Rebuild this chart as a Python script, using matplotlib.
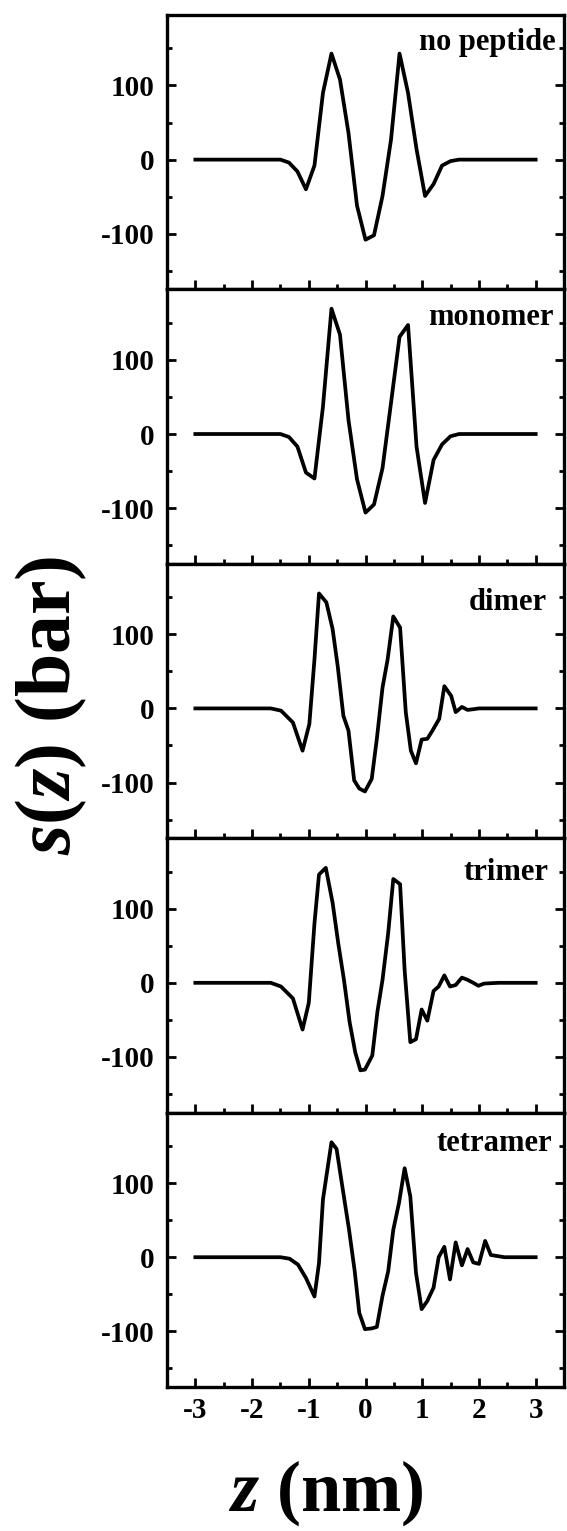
import numpy as np
import matplotlib
matplotlib.use("Agg")
import matplotlib.pyplot as plt
from matplotlib.ticker import MultipleLocator

plt.rcParams['font.family'] = 'Liberation Serif'
plt.rcParams['font.weight'] = 'bold'
plt.rcParams['axes.unicode_minus'] = False
plt.rcParams['mathtext.fontset'] = 'custom'
plt.rcParams['mathtext.rm'] = 'Liberation Serif:bold'
plt.rcParams['mathtext.it'] = 'Liberation Serif:italic:bold'
plt.rcParams['mathtext.bf'] = 'Liberation Serif:bold'

# ---- data: z (nm), s(z) (bar) ----
z_none = [-3.0, -1.5, -1.35, -1.2, -1.05, -0.9, -0.75, -0.6, -0.45, -0.3, -0.15, 0.0,
          0.15, 0.3, 0.45, 0.6, 0.75, 0.9, 1.05, 1.2, 1.35, 1.5, 1.65, 3.0]
s_none = [0, 0, -4, -16, -40, -8, 90, 143, 108, 36, -62, -108,
          -102, -49, 27, 143, 90, 14, -49, -33, -8, -2, 0, 0]

z_mono = [-3.0, -1.5, -1.35, -1.2, -1.05, -0.9, -0.75, -0.6, -0.45, -0.3, -0.15, 0.0,
          0.15, 0.3, 0.45, 0.6, 0.75, 0.9, 1.05, 1.2, 1.35, 1.5, 1.65, 3.0]
s_mono = [0, 0, -4, -17, -52, -60, 37, 169, 134, 19, -61, -106,
          -95, -46, 42, 131, 147, -17, -93, -35, -14, -3, 0, 0]

z_dimer = [-3.0, -1.67, -1.49, -1.28, -1.11, -0.99, -0.9, -0.82, -0.69, -0.58, -0.49,
           -0.39, -0.3, -0.2, -0.11, -0.01, 0.11, 0.2, 0.3, 0.39, 0.49, 0.61, 0.71,
           0.8, 0.89, 0.99, 1.09, 1.18, 1.3, 1.39, 1.51, 1.59, 1.7, 1.8, 1.91, 2.0, 3.0]
s_dimer = [0, 0, -3, -19, -57, -21, 66, 155, 143, 107, 57,
           -10, -30, -97, -108, -112, -95, -41, 28, 66, 124, 109, -5,
           -57, -74, -42, -41, -30, -14, 30, 17, -5, 2, -2, -1, 0, 0]

z_trimer = [-3.0, -1.67, -1.49, -1.28, -1.11, -1.0, -0.9, -0.82, -0.7, -0.58, -0.48,
            -0.38, -0.28, -0.18, -0.09, -0.01, 0.12, 0.21, 0.3, 0.4, 0.49, 0.61, 0.69,
            0.79, 0.89, 0.99, 1.09, 1.2, 1.29, 1.39, 1.49, 1.59, 1.7, 1.8, 1.9, 1.99,
            2.09, 2.35, 3.0]
s_trimer = [0, 0, -5, -21, -63, -27, 80, 146, 155, 108, 53,
            4, -53, -94, -118, -117, -98, -39, 4, 67, 140, 133, 17,
            -80, -76, -36, -51, -11, -5, 10, -5, -3, 7, 4, 0, -4,
            -1, 0, 0]

z_tetra = [-3.0, -1.5, -1.34, -1.19, -1.05, -0.9, -0.82, -0.75, -0.6, -0.51, -0.41,
           -0.29, -0.19, -0.11, -0.01, 0.11, 0.2, 0.3, 0.4, 0.49, 0.59, 0.69, 0.79,
           0.89, 0.99, 1.09, 1.2, 1.29, 1.39, 1.49, 1.59, 1.7, 1.8, 1.9, 2.0, 2.11,
           2.21, 2.45, 3.0]
s_tetra = [0, 0, -2, -10, -28, -53, -8, 78, 155, 146, 96,
           37, -19, -75, -97, -96, -94, -52, -19, 37, 73, 120, 82,
           -21, -70, -59, -41, 0, 14, -30, 20, -11, 11, -7, -9, 22,
           3, 0, 0]

zs = [z_none, z_mono, z_dimer, z_trimer, z_tetra]
ss = [s_none, s_mono, s_dimer, s_trimer, s_tetra]
names = ['no peptide', 'monomer', 'dimer', 'trimer', 'tetramer']
label_x = [3.36, 3.32, 3.20, 3.23, 3.29]
label_y = [148, 147, 133, 139, 143]

fig = plt.figure(figsize=(5.67, 15.31), dpi=100)
left, right = 167 / 567, 564 / 567
top, bottom = 1 - 15 / 1531, 1 - 1387 / 1531
h = (top - bottom) / 5

axes = []
for i in range(5):
    ax = fig.add_axes([left, top - (i + 1) * h, right - left, h])
    axes.append(ax)
    ax.plot(zs[i], ss[i], color='black', lw=2.7)
    ax.set_xlim(-3.5, 3.5)
    ax.set_ylim(-175, 195)
    ax.xaxis.set_major_locator(MultipleLocator(1))
    ax.xaxis.set_minor_locator(MultipleLocator(0.5))
    ax.yaxis.set_major_locator(MultipleLocator(100))
    ax.yaxis.set_minor_locator(MultipleLocator(50))
    ax.tick_params(which='both', direction='in', top=False, right=True, width=2)
    ax.tick_params(which='major', length=6.5, labelsize=21, pad=9)
    ax.tick_params(which='minor', length=3.5)
    for sp in ax.spines.values():
        sp.set_linewidth(2.4)
    ax.text(label_x[i], label_y[i], names[i], ha='right', va='baseline',
            fontsize=22, fontweight='bold')
    if i < 4:
        ax.tick_params(labelbottom=False)
    for lab in ax.get_xticklabels() + ax.get_yticklabels():
        lab.set_fontweight('bold')

axes[-1].tick_params(axis='x', pad=7)
fig.text(51 / 567, 1 - 705 / 1531, '$s(z)$ (bar)', rotation=90, ha='center', va='center',
         fontsize=56, fontweight='bold')
fig.text(326 / 567, 1 - 1493 / 1531, '$z$ (nm)', ha='center', va='center',
         fontsize=52, fontweight='bold')

fig.savefig('out.png', dpi=100)
